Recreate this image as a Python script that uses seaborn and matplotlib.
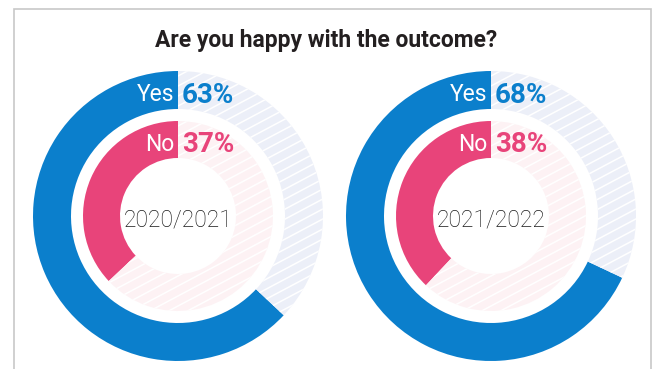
import numpy as np
import matplotlib
matplotlib.use("Agg")
import matplotlib.pyplot as plt
from matplotlib.patches import Rectangle
import seaborn as sns

# ---- data ----
periods = ["2020/2021", "2021/2022"]
yes_pct = [63, 68]
no_pct = [37, 38]
answer_labels = ["Yes", "No"]
title = "Are you happy with the outcome?"

BLUE = "#0B7FCC"
PINK = "#E8447A"
BLUE_BG = "#ECEFF8"
PINK_BG = "#FDF2F4"

sns.set_theme(style="white")
plt.rcParams["font.family"] = ["Roboto", "DejaVu Sans"]

W, H = 656, 369
fig = plt.figure(figsize=(W / 100, H / 100), dpi=100)
ax = fig.add_axes([0, 0, 1, 1])

centers_x = [178, 491]
cy = H - 216
R_OUT, W_OUT = 145, 38
R_IN, W_IN = 95, 37


def hatch(wedge, cx, cy, r):
    ang = np.deg2rad(28)
    slope = np.tan(ang)
    xs = np.array([cx - r - 10, cx + r + 10])
    for off in np.arange(-2 * r - 200, 2 * r + 200, 10):
        ys = cy + off + slope * (xs - cx)
        ln, = ax.plot(xs, ys, color="white", lw=1.1, zorder=3)
        ln.set_clip_path(wedge)


for i, cx in enumerate(centers_x):
    w_out, _ = ax.pie([yes_pct[i], 100 - yes_pct[i]], radius=R_OUT, center=(cx, cy),
                      startangle=90, counterclock=True, colors=[BLUE, BLUE_BG],
                      wedgeprops=dict(width=W_OUT, linewidth=0))
    hatch(w_out[1], cx, cy, R_OUT)
    w_in, _ = ax.pie([no_pct[i], 100 - no_pct[i]], radius=R_IN, center=(cx, cy),
                     startangle=90, counterclock=True, colors=[PINK, PINK_BG],
                     wedgeprops=dict(width=W_IN, linewidth=0))
    hatch(w_in[1], cx, cy, R_IN)
    for w in list(w_out) + list(w_in):
        w.set_zorder(2)

    # labels
    ax.text(cx - 4, H - 101, answer_labels[0], ha="right", va="baseline", color="white",
            fontsize=16.5, fontweight="normal", zorder=5)
    ax.text(cx + 4, H - 103, f"{yes_pct[i]}%", ha="left", va="baseline", color=BLUE,
            fontsize=20, fontweight="bold", zorder=5)
    ax.text(cx - 4, H - 151, answer_labels[1], ha="right", va="baseline", color="white",
            fontsize=16.5, fontweight="normal", zorder=5)
    ax.text(cx + 4, H - 152.5, f"{no_pct[i]}%", ha="left", va="baseline", color=PINK,
            fontsize=20, fontweight="bold", zorder=5)
    ax.text(cx, H - 226, periods[i], ha="center", va="baseline", color="#1a1a1a",
            fontsize=16.5, fontweight="light", zorder=5)

ax.text(326, H - 47, title, ha="center", va="baseline", color="#231F20",
        fontsize=16.5, fontweight="bold")

ax.add_patch(Rectangle((13.5, -20), 637, H - 8.5 + 20, fill=False,
                       edgecolor="#C8C8C8", lw=1.2, clip_on=False, zorder=1))

ax.set_xlim(0, W)
ax.set_ylim(0, H)
ax.set_aspect("equal")
ax.axis("off")

fig.savefig("out.png", dpi=100)
